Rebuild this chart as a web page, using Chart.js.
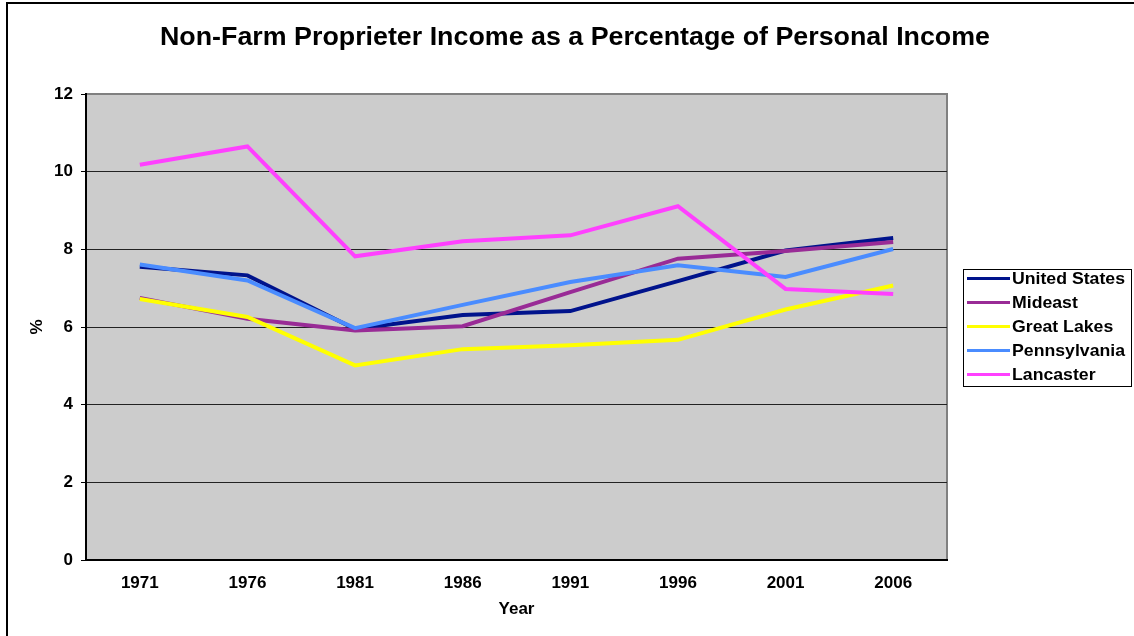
<!DOCTYPE html>
<html>
<head>
<meta charset="utf-8">
<title>Non-Farm Proprieter Income</title>
<script src="https://cdn.jsdelivr.net/npm/chart.js@4.4.0/dist/chart.umd.min.js"></script>
<style>
    html, body { margin: 0; padding: 0; background: #fff; overflow: hidden; }
    #wrap { position: relative; width: 1134px; height: 636px; }
    #frame {
        position: absolute; left: 6px; top: 2px; width: 1200px; height: 700px;
        border-left: 2px solid #000; border-top: 2px solid #000; pointer-events: none;
    }
</style>
</head>
<body>
<div id="wrap">
    <canvas id="incomeChart" width="1134" height="636"></canvas>
    <div id="frame"></div>
</div>
<script>
const years = ['1971', '1976', '1981', '1986', '1991', '1996', '2001', '2006'];
const seriesNames = ['United States', 'Mideast', 'Great Lakes', 'Pennsylvania', 'Lancaster'];
const unitedStates = [7.55, 7.33, 5.95, 6.31, 6.41, 7.18, 7.97, 8.29];
const mideast = [6.75, 6.21, 5.91, 6.02, 6.90, 7.76, 7.96, 8.19];
const greatLakes = [6.72, 6.26, 5.01, 5.43, 5.53, 5.67, 6.45, 7.07];
const pennsylvania = [7.61, 7.20, 5.97, 6.57, 7.16, 7.59, 7.29, 8.01];
const lancaster = [10.18, 10.65, 7.82, 8.21, 8.36, 9.11, 6.98, 6.85];
const yTicks = [0, 2, 4, 6, 8, 10, 12];

const colors = ['#00138c', '#992b96', '#ffff00', '#4a8cff', '#ff40ff'];
const FONT = '"Liberation Sans", Arial, sans-serif';

document.addEventListener('DOMContentLoaded', () => {
    const values = [unitedStates, mideast, greatLakes, pennsylvania, lancaster];

    // text drawn a little wider, as in the original picture
    function wideText(ctx, text, x, y, stretch) {
        ctx.save();
        ctx.translate(x, y);
        ctx.scale(stretch, 1);
        ctx.fillText(text, 0, 0);
        ctx.restore();
    }

    // grey plot area with a grey frame
    const plotBackground = {
        id: 'plotBackground',
        beforeDraw(chart) {
            const { ctx, chartArea: a } = chart;
            ctx.save();
            ctx.fillStyle = '#cccccc';
            ctx.fillRect(a.left, a.top, a.right - a.left, a.bottom - a.top);
            ctx.strokeStyle = '#808080';
            ctx.lineWidth = 2;
            ctx.strokeRect(a.left, a.top, a.right - a.left, a.bottom - a.top);
            ctx.restore();
        }
    };

    // title and boxed legend
    const decorations = {
        id: 'decorations',
        afterDraw(chart) {
            const ctx = chart.ctx;
            ctx.save();
            ctx.fillStyle = '#000';
            ctx.font = 'bold 25px ' + FONT;
            ctx.textAlign = 'center';
            ctx.textBaseline = 'middle';
            const title = 'Non-Farm Proprieter Income as a Percentage of Personal Income';
            wideText(ctx, title, 575, 38, 830 / ctx.measureText(title).width);

            ctx.fillStyle = '#fff';
            ctx.fillRect(963, 269, 169, 118);
            ctx.strokeStyle = '#000';
            ctx.lineWidth = 1;
            ctx.strokeRect(963.5, 269.5, 168, 117);

            ctx.font = 'bold 17px ' + FONT;
            ctx.textAlign = 'left';
            const stretch = 113 / ctx.measureText('United States').width;
            chart.data.datasets.forEach((ds, i) => {
                const y = 278.5 + i * 24;
                ctx.strokeStyle = ds.borderColor;
                ctx.lineWidth = 3;
                ctx.beginPath();
                ctx.moveTo(967, y);
                ctx.lineTo(1010, y);
                ctx.stroke();
                ctx.fillStyle = '#000';
                wideText(ctx, ds.label, 1012, y + 1, stretch);
            });
            ctx.restore();
        }
    };

    new Chart(document.getElementById('incomeChart'), {
        type: 'line',
        data: {
            labels: years,
            datasets: seriesNames.map((name, i) => ({
                label: name,
                data: values[i],
                borderColor: colors[i],
                backgroundColor: colors[i],
                borderWidth: 4,
                pointRadius: 0,
                tension: 0,
                order: seriesNames.length - i
            }))
        },
        options: {
            responsive: false,
            animation: false,
            layout: { padding: { top: 94, right: 187, left: 0, bottom: 0 } },
            plugins: {
                legend: { display: false },
                title: { display: false },
                tooltip: { enabled: false }
            },
            scales: {
                x: {
                    type: 'category',
                    offset: true,
                    grid: { display: false },
                    border: { display: true, color: '#000', width: 2 },
                    ticks: {
                        color: '#000',
                        padding: 5,
                        maxRotation: 0,
                        font: { family: FONT, size: 17, weight: 'bold' }
                    },
                    title: {
                        display: true,
                        text: 'Year',
                        color: '#000',
                        padding: { top: 0, bottom: 16 },
                        font: { family: FONT, size: 17, weight: 'bold' }
                    },
                    afterFit(scale) { scale.height = 76; }
                },
                y: {
                    min: 0,
                    max: 12,
                    afterBuildTicks(scale) { scale.ticks = yTicks.map(v => ({ value: v })); },
                    grid: {
                        color: ctx => (ctx.tick && ctx.tick.value === 12 ? '#808080' : '#222'),
                        lineWidth: 1,
                        tickLength: 5,
                        tickColor: '#000'
                    },
                    border: { display: true, color: '#000', width: 2 },
                    ticks: {
                        color: '#000',
                        padding: 8,
                        font: { family: FONT, size: 17, weight: 'bold' }
                    },
                    title: {
                        display: true,
                        text: '%',
                        color: '#000',
                        padding: { top: 27, bottom: 0 },
                        font: { family: FONT, size: 17, weight: 'bold' }
                    },
                    afterFit(scale) { scale.width = 86; }
                }
            }
        },
        plugins: [plotBackground, decorations]
    });
});
</script>
</body>
</html>
